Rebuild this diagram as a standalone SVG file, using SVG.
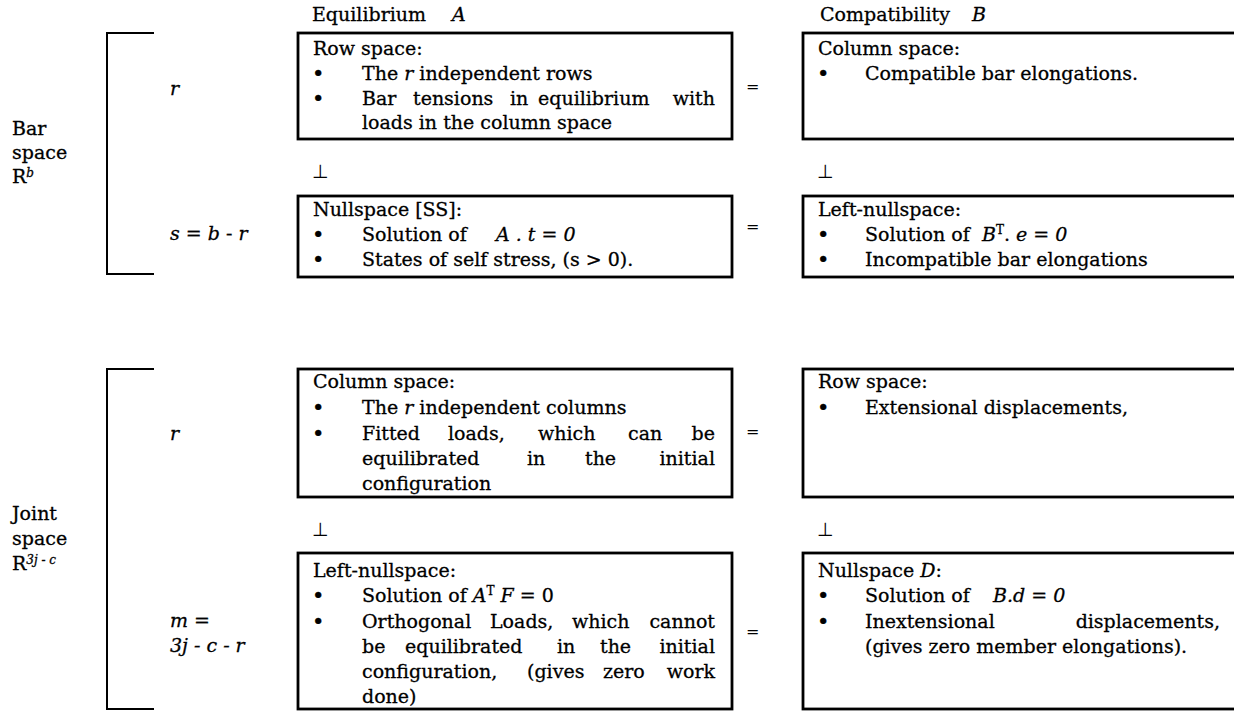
<svg xmlns="http://www.w3.org/2000/svg" width="1234" height="711" viewBox="0 0 1234 711">
<style>
text{font-family:"DejaVu Serif","Liberation Serif",serif;font-size:19px;fill:#000;stroke:#000;stroke-width:0.3}
.i{font-style:italic}
.box{fill:#fff;stroke:#000;stroke-width:2.8}
.br{fill:none;stroke:#000;stroke-width:2}
.sup{font-size:12px}
.eq{font-size:16px;stroke-width:0}
.perp{font-family:"DejaVu Sans",sans-serif;font-size:19px;stroke-width:0}
.bul{font-size:21px}
</style>
<rect width="1234" height="711" fill="#fff"/>

<g id="headers">
<text x="312" y="21">Equilibrium<tspan x="452" class="i">A</tspan></text>
<text x="820" y="21">Compatibility<tspan x="972" class="i">B</tspan></text>
</g>

<g id="bar-space-label">
<text x="12" y="135">Bar</text>
<text x="12" y="159">space</text>
<text x="12" y="183">R<tspan class="i sup" dy="-6">b</tspan></text>
</g>
<g id="joint-space-label">
<text x="12" y="520">Joint</text>
<text x="12" y="545">space</text>
<text x="12" y="570">R<tspan class="i sup" dy="-6">3j - c</tspan></text>
</g>

<g id="rank-labels">
<text x="170" y="95" class="i">r</text>
<text x="170" y="240"><tspan class="i">s</tspan> = <tspan class="i">b</tspan> - <tspan class="i">r</tspan></text>
<text x="170" y="440" class="i">r</text>
<text x="170" y="627"><tspan class="i">m</tspan> =</text>
<text x="170" y="652" class="i">3j - c - r</text>
</g>

<g id="connectors">
<path class="br" d="M154,33 H107 V274 H154"/>
<path class="br" d="M154,369 H107 V709 H154"/>
<text class="eq" x="746" y="92">=</text>
<text class="eq" x="746" y="232">=</text>
<text class="eq" x="746" y="437">=</text>
<text class="eq" x="746" y="637">=</text>
<text class="perp" x="312" y="178">⊥</text>
<text class="perp" x="817" y="178">⊥</text>
<text class="perp" x="312" y="536">⊥</text>
<text class="perp" x="817" y="536">⊥</text>
</g>

<g id="A-row-space">
<rect class="box" x="298" y="33" width="434" height="106"/>
<text x="313" y="55">Row space:</text>
<text class="bul" x="312" y="81">•</text>
<text x="362" y="80">The <tspan class="i">r</tspan> independent rows</text>
<text class="bul" x="312" y="106">•</text>
<text y="105"><tspan x="362">Bar</tspan><tspan x="413">tensions</tspan><tspan x="510">in</tspan><tspan x="538">equilibrium</tspan></text>
<text x="715" y="105" text-anchor="end">with</text>
<text x="362" y="129">loads in the column space</text>
</g>

<g id="B-column-space">
<rect class="box" x="803" y="33" width="440" height="106"/>
<text x="818" y="55">Column space:</text>
<text class="bul" x="817" y="81">•</text>
<text x="865" y="80">Compatible bar elongations.</text>
</g>

<g id="A-nullspace">
<rect class="box" x="298" y="196" width="434" height="81"/>
<text x="313" y="216">Nullspace [SS]:</text>
<text class="bul" x="312" y="242">•</text>
<text x="362" y="241">Solution of<tspan x="496" class="i">A . t = 0</tspan></text>
<text class="bul" x="312" y="267">•</text>
<text x="362" y="266">States of self stress, (s &gt; 0).</text>
</g>

<g id="B-left-nullspace">
<rect class="box" x="803" y="196" width="440" height="81"/>
<text x="818" y="216">Left-nullspace:</text>
<text class="bul" x="817" y="242">•</text>
<text x="865" y="241">Solution of<tspan x="982" class="i">B</tspan><tspan class="sup" dy="-7">T</tspan><tspan dy="7">. </tspan><tspan class="i">e = 0</tspan></text>
<text class="bul" x="817" y="267">•</text>
<text x="865" y="266">Incompatible bar elongations</text>
</g>

<g id="A-column-space">
<rect class="box" x="298" y="369" width="434" height="128"/>
<text x="313" y="388">Column space:</text>
<text class="bul" x="312" y="415">•</text>
<text x="362" y="414">The <tspan class="i">r</tspan> independent columns</text>
<text class="bul" x="312" y="441">•</text>
<text y="440"><tspan x="362">Fitted</tspan><tspan x="448">loads,</tspan><tspan x="538">which</tspan><tspan x="628">can</tspan></text>
<text x="715" y="440" text-anchor="end">be</text>
<text y="465"><tspan x="362">equilibrated</tspan><tspan x="527">in</tspan><tspan x="585">the</tspan></text>
<text x="715" y="465" text-anchor="end">initial</text>
<text x="362" y="490">configuration</text>
</g>

<g id="B-row-space">
<rect class="box" x="803" y="369" width="440" height="128"/>
<text x="818" y="388">Row space:</text>
<text class="bul" x="817" y="415">•</text>
<text x="865" y="414">Extensional displacements,</text>
</g>

<g id="A-left-nullspace">
<rect class="box" x="298" y="553" width="434" height="156"/>
<text x="313" y="577">Left-nullspace:</text>
<text class="bul" x="312" y="603">•</text>
<text x="362" y="602">Solution of <tspan class="i">A</tspan><tspan class="sup" dy="-7">T</tspan><tspan class="i" dy="7"> F</tspan> = 0</text>
<text class="bul" x="312" y="629">•</text>
<text y="628"><tspan x="362">Orthogonal</tspan><tspan x="490">Loads,</tspan><tspan x="572">which</tspan></text>
<text x="715" y="628" text-anchor="end">cannot</text>
<text y="653"><tspan x="362">be</tspan><tspan x="405">equilibrated</tspan><tspan x="557">in</tspan><tspan x="600">the</tspan></text>
<text x="715" y="653" text-anchor="end">initial</text>
<text y="678"><tspan x="362">configuration,</tspan><tspan x="527">(gives</tspan><tspan x="603">zero</tspan></text>
<text x="715" y="678" text-anchor="end">work</text>
<text x="362" y="703">done)</text>
</g>

<g id="B-nullspace">
<rect class="box" x="803" y="553" width="440" height="156"/>
<text x="818" y="577">Nullspace <tspan class="i">D</tspan>:</text>
<text class="bul" x="817" y="603">•</text>
<text x="865" y="602">Solution of<tspan x="993" class="i">B.d = 0</tspan></text>
<text class="bul" x="817" y="629">•</text>
<text x="865" y="628">Inextensional</text>
<text x="1220" y="628" text-anchor="end">displacements,</text>
<text x="865" y="653">(gives zero member elongations).</text>
</g>
</svg>
